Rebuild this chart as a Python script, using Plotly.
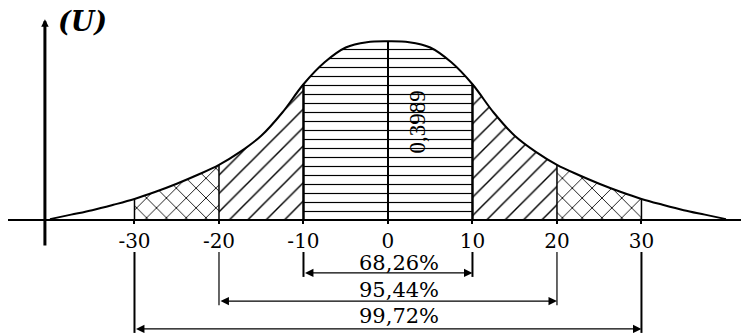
import numpy as np
import plotly.graph_objects as go

# ---------------- data ----------------
SIGMA_X = [-4.0, -3.75, -3.5, -3.25, -3.0, -2.75, -2.5, -2.25, -2.0, -1.75, -1.5, -1.25, -1.0,
           -0.75, -0.5, -0.25, 0.0, 0.25, 0.5, 0.75, 1.0, 1.25, 1.5, 1.75, 2.0, 2.25, 2.5,
           2.75, 3.0, 3.25, 3.5, 3.75, 4.0]
DENSITY = [0.002, 0.012, 0.022, 0.034, 0.047, 0.063, 0.081, 0.101, 0.123, 0.152, 0.188, 0.240, 0.303,
           0.352, 0.385, 0.397, 0.3989, 0.397, 0.385, 0.352, 0.303, 0.240, 0.188, 0.152, 0.123, 0.101, 0.081,
           0.063, 0.047, 0.034, 0.022, 0.012, 0.002]
TICK_VALUES = [-3, -2, -1, 0, 1, 2, 3]
TICK_LABELS = ["-30", "-20", "-10", "0", "10", "20", "30"]
INTERVAL_SIGMAS = [1, 2, 3]
INTERVAL_LABELS = ["68,26%", "95,44%", "99,72%"]
PEAK_LABEL = "0,3989"
AXIS_TITLE = "(U)"

# ---------------- layout constants ----------------
W, H = 741, 333
SERIF = "Liberation Serif"
TICKFONT = "DejaVu Serif"
X_RANGE = [-4.497, 4.178]
Y_RANGE = [-0.2522, 0.4911]
Y_AXIS_X = -4.06
DIM_TOP = -0.0714
DIM_BOTTOM = [-0.127, -0.190, -0.252]
ARROW_Y = [-0.118, -0.181, -0.243]
LABEL_Y = [-0.096, -0.156, -0.215]

x = np.array(SIGMA_X)
y = np.array(DENSITY)

fig = go.Figure()

def region(a, b, shape, size, sol):
    m = (x >= a - 1e-9) & (x <= b + 1e-9)
    fig.add_trace(go.Scatter(
        x=x[m], y=y[m], mode="lines", line=dict(width=0, shape="spline", color="black"),
        fill="tozeroy", fillcolor="white",
        fillpattern=dict(shape=shape, size=size, solidity=sol, fgcolor="black", bgcolor="white",
                         fgopacity=1),
        hoverinfo="skip", showlegend=False))

region(-1, 1, "-", 9, 0.13)
region(-2, -1, "/", 13, 0.11)
region(1, 2, "/", 13, 0.11)
region(-3, -2, "x", 14, 0.12)
region(2, 3, "x", 14, 0.12)

# outline of the curve
fig.add_trace(go.Scatter(x=x, y=y, mode="lines", line=dict(color="black", width=2, shape="spline"),
                         hoverinfo="skip", showlegend=False))

# vertical boundaries up to the curve
def height_at(v):
    return float(y[np.argmin(np.abs(x - v))])

for k in INTERVAL_SIGMAS:
    wdt = 2.5 if k == 1 else 1.5
    fig.add_trace(go.Scatter(x=[-k, -k, None, k, k], y=[0, height_at(-k), None, 0, height_at(k)],
                             mode="lines", line=dict(color="black", width=wdt),
                             hoverinfo="skip", showlegend=False))
# centre line
fig.add_trace(go.Scatter(x=[0, 0], y=[0, height_at(0)], mode="lines",
                         line=dict(color="black", width=2), hoverinfo="skip", showlegend=False))

# dimension lines below the axis
for i, k in enumerate(INTERVAL_SIGMAS):
    wdt = 2 if k != 2 else 1.2
    fig.add_trace(go.Scatter(x=[-k, -k, None, k, k], y=[DIM_TOP, DIM_BOTTOM[i], None, DIM_TOP, DIM_BOTTOM[i]],
                             mode="lines", line=dict(color="black", width=wdt),
                             hoverinfo="skip", showlegend=False))
    fig.add_annotation(x=k, y=ARROW_Y[i], ax=-k, ay=ARROW_Y[i], xref="x", yref="y", axref="x", ayref="y",
                       text="", showarrow=True, arrowside="end+start", arrowhead=2, startarrowhead=2,
                       arrowsize=1.3, startarrowsize=1.3, arrowwidth=1.3, arrowcolor="black",
                       standoff=0, startstandoff=0)
    fig.add_annotation(x=0, y=LABEL_Y[i], xref="x", yref="y", text=INTERVAL_LABELS[i], showarrow=False,
                       xshift=11, font=dict(family=TICKFONT, size=21, color="black"))

# vertical axis with arrow
fig.add_annotation(x=Y_AXIS_X, y=0.448, ax=Y_AXIS_X, ay=-0.06, xref="x", yref="y", axref="x", ayref="y",
                   text="", showarrow=True, arrowhead=2, arrowsize=0.5, arrowwidth=3, arrowcolor="black",
                   standoff=0)
fig.add_annotation(x=-3.62, y=0.444, xref="x", yref="y", text=AXIS_TITLE, showarrow=False,
                   font=dict(family=TICKFONT, size=27, color="black", weight="bold", style="italic"))

# peak value label
fig.add_annotation(x=0.35, y=0.219, xref="x", yref="y", text=PEAK_LABEL, showarrow=False, textangle=-90,
                   font=dict(family=SERIF, size=23, color="black"))

fig.update_layout(
    width=W, height=H, margin=dict(l=0, r=0, t=0, b=0),
    paper_bgcolor="white", plot_bgcolor="white", showlegend=False,
    xaxis=dict(domain=[8 / W, 1], range=X_RANGE, anchor="free", position=(H - 220) / H,
               showline=True, linecolor="black", linewidth=2, showgrid=False, zeroline=False,
               tickmode="array", tickvals=TICK_VALUES, ticktext=TICK_LABELS,
               ticks="outside", ticklen=3, tickwidth=1.5, tickcolor="black",
               tickfont=dict(family=TICKFONT, size=20, color="black")),
    yaxis=dict(domain=[0, 1], range=Y_RANGE, visible=False, showgrid=False, zeroline=False),
)

fig.write_html("out.html", config={"displayModeBar": False},
               post_script="document.body.style.margin='0px';")
